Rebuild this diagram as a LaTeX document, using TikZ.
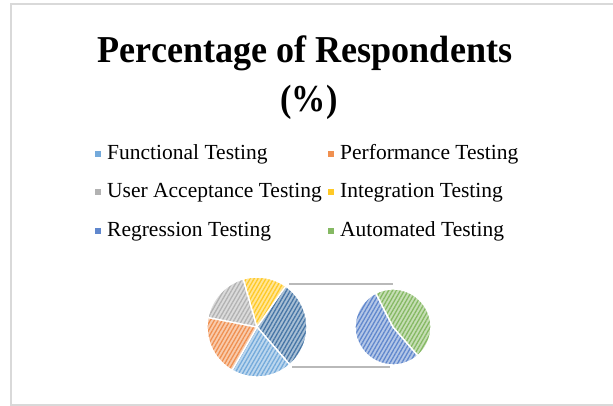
\documentclass[tikz,border=0pt]{standalone}
\usepackage{fontspec}
\setmainfont{Liberation Serif}
\usetikzlibrary{patterns.meta}
\definecolor{funcblue}{RGB}{91,155,213}
\definecolor{perforange}{RGB}{237,125,49}
\definecolor{uatgray}{RGB}{165,165,165}
\definecolor{integgold}{RGB}{255,192,0}
\definecolor{regrblue}{RGB}{68,114,196}
\definecolor{autogreen}{RGB}{112,173,71}
\definecolor{otherblue}{RGB}{38,94,150}
\definecolor{framegray}{RGB}{217,217,217}

\tikzset{
  hatch/.style={preaction={fill=#1!40}, pattern={Lines[angle=60,distance=3.4pt,line width=1.3pt]},
    pattern color=#1!85, draw=white, line width=1.4pt},
  legmark/.style={fill=#1!85, minimum size=6pt, inner sep=0pt, rectangle},
  legtext/.style={font=\fontsize{21.5}{23}\selectfont, inner sep=0pt, anchor=base west},
  linkline/.style={draw=gray!55, line width=1.6pt}
}

\begin{document}
\begin{tikzpicture}[x=1pt,y=1pt]
  \useasboundingbox (0,0) rectangle (613,406);
  % chart frame (right side runs off the page)
  \draw[framegray, line width=2pt] (630,402) -- (11,402) -- (11,1) -- (630,1);
  % title
  \node[anchor=base, inner sep=0pt] (title) at (305,343)
    {\scalebox{0.95}[1]{\fontsize{38}{40}\selectfont\bfseries Percentage of Respondents}};
  \node[anchor=base, inner sep=0pt] (percent) at (309,294)
    {\scalebox{0.9}[1]{\fontsize{38}{40}\selectfont\bfseries (\%)}};
  % legend
  \node[legmark=funcblue] (mfunc) at (97.5,252) {};
  \node[legtext] (tfunc) at (107,246) {Functional Testing};
  \node[legmark=perforange] (mperf) at (330.5,252) {};
  \node[legtext] (tperf) at (340,246) {Performance Testing};
  \node[legmark=uatgray] (muat) at (97.5,214) {};
  \node[legtext] (tuat) at (107,208) {User Acceptance Testing};
  \node[legmark=integgold] (minteg) at (330.5,214) {};
  \node[legtext] (tinteg) at (340,208) {Integration Testing};
  \node[legmark=regrblue] (mregr) at (97.5,175) {};
  \node[legtext] (tregr) at (107,169) {Regression Testing};
  \node[legmark=autogreen] (mauto) at (330.5,175) {};
  \node[legtext] (tauto) at (340,169) {Automated Testing};
  % main pie
  \def\r{50}
  \coordinate (mainc) at (257,79);
  \foreach \a/\b/\c in {-49/55/otherblue, 240/311/funcblue, 169/240/perforange,
                        106/169/uatgray, 55/106/integgold}
    \draw[hatch=\c, shift={({(\a+\b)/2}:1.5)}]
      (mainc) -- ++(\a:\r) arc[start angle=\a, end angle=\b, radius=\r] -- cycle;
  % secondary pie
  \def\rs{38}
  \coordinate (secc) at (393,79);
  \foreach \a/\b/\c in {117/311/regrblue, -49/117/autogreen}
    \draw[hatch=\c, shift={({(\a+\b)/2}:1.5)}]
      (secc) -- ++(\a:\rs) arc[start angle=\a, end angle=\b, radius=\rs] -- cycle;
  % lines between the pies
  \coordinate (maintop) at (289,122);
  \coordinate (mainbot) at (292,39);
  \coordinate (sectop) at (393,122);
  \coordinate (secbot) at (390,39);
  \draw[linkline] (maintop) -- (sectop);
  \draw[linkline] (mainbot) -- (secbot);
\end{tikzpicture}
\end{document}
